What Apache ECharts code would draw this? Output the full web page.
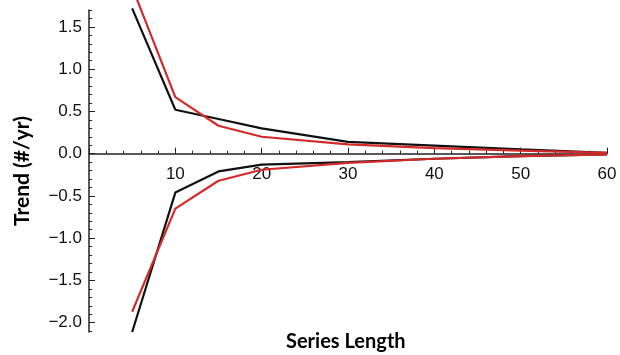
<!DOCTYPE html>
<html>
<head>
<meta charset="utf-8">
<script src="https://cdn.jsdelivr.net/npm/echarts@6/dist/echarts.min.js"></script>
<style>html,body{margin:0;padding:0;background:#fff}#c{width:620px;height:355px}</style>
</head>
<body>
<div id="c"></div>
<script>
var lengths = [5, 10, 15, 20, 30, 40, 50, 60];
var blackUpper = [1.72, 0.52, 0.41, 0.30, 0.14, 0.095, 0.05, 0.01];
var redUpper   = [1.97, 0.67, 0.33, 0.20, 0.11, 0.065, 0.035, 0.01];
var blackLower = [-2.11, -0.46, -0.21, -0.13, -0.10, -0.06, -0.03, -0.01];
var redLower   = [-1.87, -0.65, -0.32, -0.19, -0.11, -0.06, -0.03, -0.01];
var yMajorTicks = [-2.0, -1.5, -1.0, -0.5, 0.0, 0.5, 1.0, 1.5];
var yMinorTicks = [];
for (var i = -21; i <= 17; i++) yMinorTicks.push(Math.round(i) / 10);
var xTickLabels = [10, 20, 30, 40, 50, 60];

function pairs(ys) { return lengths.map(function (x, i) { return [x, ys[i]]; }); }
function fmtY(v) {
  var s = Math.abs(v).toFixed(1);
  return (v < -1e-9 ? '\u2212' : '') + s;
}
var chart = echarts.init(document.getElementById('c'), null, { renderer: 'canvas' });
chart.setOption({
  animation: false,
  grid: { left: 89, right: 13, top: 10, bottom: 23, containLabel: false, outerBoundsMode: 'none' },
  graphic: [{
    type: 'text', left: 286, top: 332,
    style: { text: 'Series Length', fontFamily: 'Lato', fontWeight: 'bold', fontSize: 20, fill: '#000' }
  }],
  xAxis: {
    type: 'value', min: 0, max: 60, interval: 10,
    axisLine: { onZero: true, lineStyle: { color: '#222', width: 1.5 } },
    axisTick: { show: true, inside: true, length: 6, lineStyle: { color: '#222' } },
    minorTick: { show: true, splitNumber: 5, length: 3, lineStyle: { color: '#222' } },
    axisLabel: {
      fontFamily: 'Liberation Sans', fontSize: 17, color: '#111', margin: -166,
      formatter: function (v) { return xTickLabels.indexOf(v) >= 0 ? String(v) : ''; }
    },
    splitLine: { show: false }
  },
  yAxis: [{
    type: 'value', min: -2.11, max: 1.7,
    name: 'Trend (#/yr)', nameLocation: 'middle', nameGap: 56,
    nameTextStyle: { fontFamily: 'Lato', fontWeight: 'bold', fontSize: 21, color: '#000' },
    axisLine: { show: true, onZero: false, lineStyle: { color: '#222', width: 1.5 } },
    axisTick: { show: true, inside: true, length: 6, customValues: yMajorTicks, lineStyle: { color: '#222' } },
    axisLabel: { customValues: yMajorTicks, fontFamily: 'Liberation Sans', fontSize: 17, color: '#111', margin: 7, formatter: fmtY },
    splitLine: { show: false }
  }, {
    type: 'value', min: -2.11, max: 1.7, position: 'left', offset: 0,
    axisLine: { show: false },
    axisTick: { show: true, inside: true, length: 3, customValues: yMinorTicks, lineStyle: { color: '#222' } },
    axisLabel: { show: false },
    splitLine: { show: false }
  }],
  series: [
    { type: 'line', data: pairs(blackUpper), symbol: 'none', clip: false, lineStyle: { color: '#111', width: 2.2 }, z: 3 },
    { type: 'line', data: pairs(redUpper), symbol: 'none', clip: false, lineStyle: { color: '#d42a2a', width: 2.2 }, z: 4 },
    { type: 'line', data: pairs(blackLower), symbol: 'none', clip: false, lineStyle: { color: '#111', width: 2.2 }, z: 3 },
    { type: 'line', data: pairs(redLower), symbol: 'none', clip: false, lineStyle: { color: '#d42a2a', width: 2.2 }, z: 4 }
  ]
});
</script>
</body>
</html>
